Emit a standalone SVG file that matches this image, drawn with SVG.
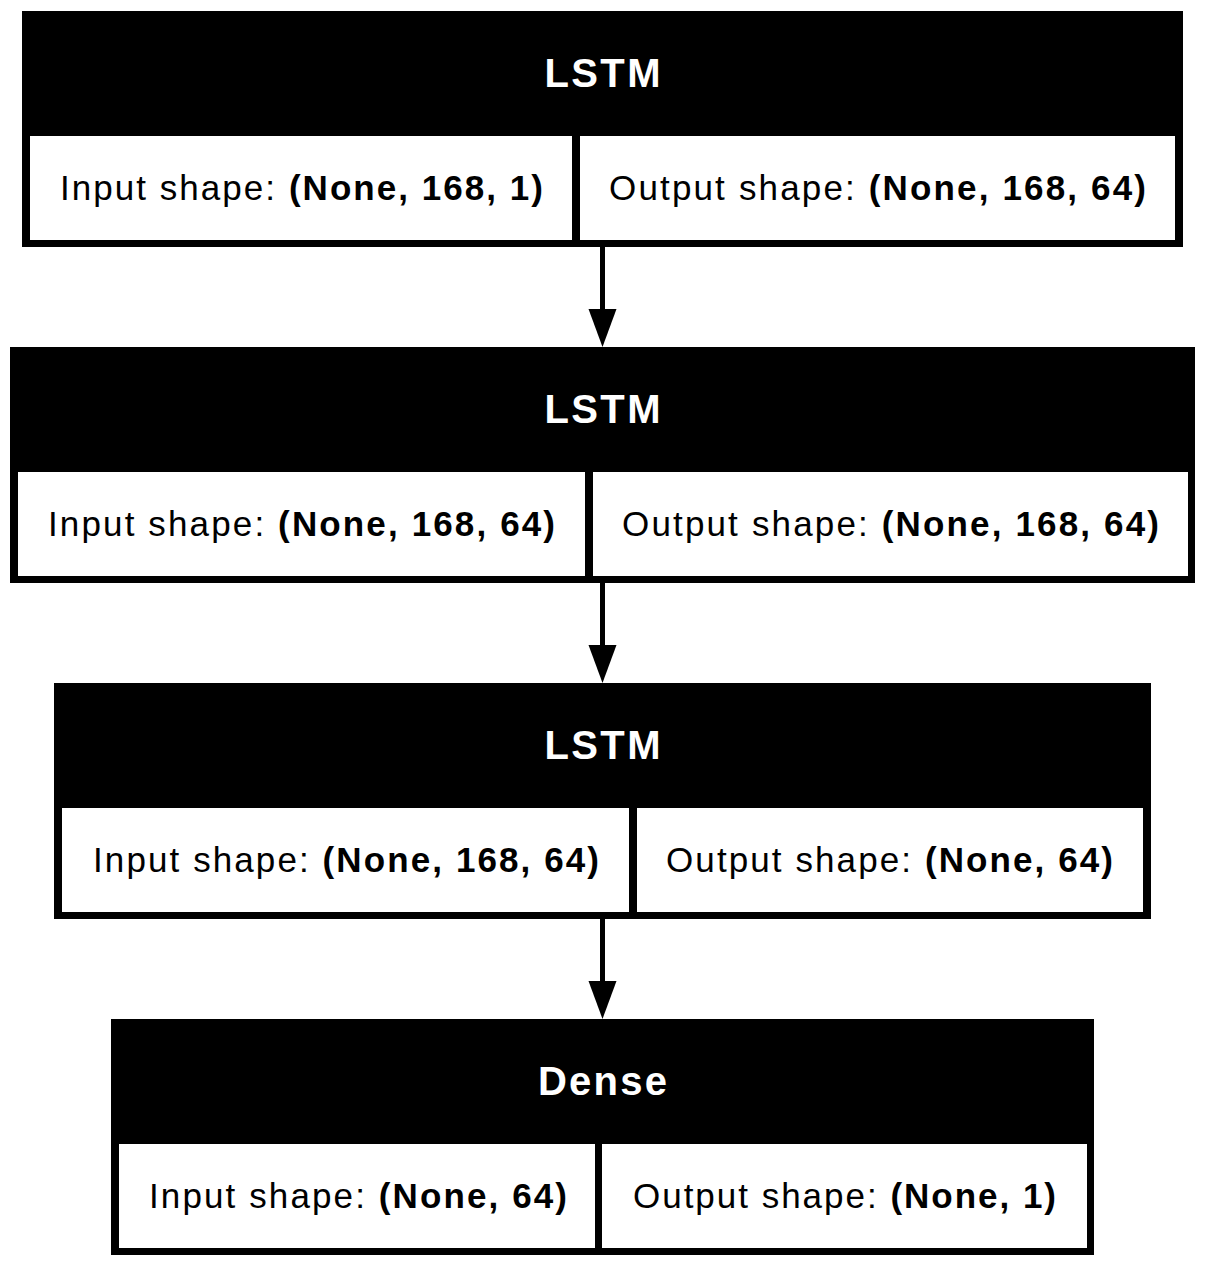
<svg xmlns="http://www.w3.org/2000/svg" width="1206" height="1267" viewBox="0 0 1206 1267">
<defs>
<style>
.box{fill:#000;}
.cell{fill:#fff;}
.title{font-family:"Liberation Sans",Arial,sans-serif;font-weight:bold;font-size:40px;fill:#fff;}
.lbl{font-family:"Liberation Sans",Arial,sans-serif;font-size:35px;fill:#000;}
.b{font-weight:bold;}
.edge{stroke:#000;stroke-width:5;fill:none;}
.head{fill:#000;}
</style>
</defs>
<rect x="0" y="0" width="1206" height="1267" fill="#fff"/>
<g id="connectors">
<line class="edge" x1="602.5" y1="246" x2="602.5" y2="312"/>
<polygon class="head" points="588.5,309 616.5,309 602.5,347"/>
<line class="edge" x1="602.5" y1="582" x2="602.5" y2="648"/>
<polygon class="head" points="588.5,645 616.5,645 602.5,683"/>
<line class="edge" x1="602.5" y1="918" x2="602.5" y2="984"/>
<polygon class="head" points="588.5,981 616.5,981 602.5,1019"/>
</g>
<g id="node1">
<rect class="box" x="22" y="11" width="1161" height="236"/>
<rect class="cell" x="30" y="136" width="542" height="104"/>
<rect class="cell" x="580" y="136" width="595" height="104"/>
<text class="title" x="602.5" y="87" text-anchor="middle" textLength="116" lengthAdjust="spacing">LSTM</text>
<text class="lbl" x="60" y="200" textLength="483" lengthAdjust="spacing">Input shape: <tspan class="b">(None, 168, 1)</tspan></text>
<text class="lbl" x="609" y="200" textLength="537" lengthAdjust="spacing">Output shape: <tspan class="b">(None, 168, 64)</tspan></text>
</g>
<g id="node2">
<rect class="box" x="10" y="347" width="1185" height="236"/>
<rect class="cell" x="18" y="472" width="567" height="104"/>
<rect class="cell" x="593" y="472" width="595" height="104"/>
<text class="title" x="602.5" y="423" text-anchor="middle" textLength="116" lengthAdjust="spacing">LSTM</text>
<text class="lbl" x="48" y="536" textLength="507" lengthAdjust="spacing">Input shape: <tspan class="b">(None, 168, 64)</tspan></text>
<text class="lbl" x="622" y="536" textLength="537" lengthAdjust="spacing">Output shape: <tspan class="b">(None, 168, 64)</tspan></text>
</g>
<g id="node3">
<rect class="box" x="54" y="683" width="1097" height="236"/>
<rect class="cell" x="62" y="808" width="567" height="104"/>
<rect class="cell" x="637" y="808" width="506" height="104"/>
<text class="title" x="602.5" y="759" text-anchor="middle" textLength="116" lengthAdjust="spacing">LSTM</text>
<text class="lbl" x="93" y="872" textLength="506" lengthAdjust="spacing">Input shape: <tspan class="b">(None, 168, 64)</tspan></text>
<text class="lbl" x="666" y="872" textLength="447" lengthAdjust="spacing">Output shape: <tspan class="b">(None, 64)</tspan></text>
</g>
<g id="node4">
<rect class="box" x="111" y="1019" width="983" height="236"/>
<rect class="cell" x="119" y="1144" width="476" height="104"/>
<rect class="cell" x="602" y="1144" width="485" height="104"/>
<text class="title" x="602.5" y="1095" text-anchor="middle" textLength="129" lengthAdjust="spacing">Dense</text>
<text class="lbl" x="149" y="1208" textLength="418" lengthAdjust="spacing">Input shape: <tspan class="b">(None, 64)</tspan></text>
<text class="lbl" x="633" y="1208" textLength="423" lengthAdjust="spacing">Output shape: <tspan class="b">(None, 1)</tspan></text>
</g>
</svg>
